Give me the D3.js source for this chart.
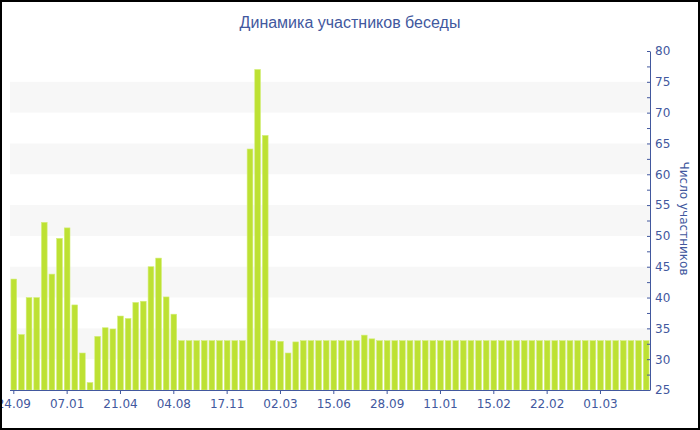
<!DOCTYPE html>
<html><head><meta charset="utf-8">
<script src="https://cdn.jsdelivr.net/npm/d3@7"></script>
<style>html,body{margin:0;padding:0;background:#fff}svg{display:block}</style>
</head><body><svg id="c" width="700" height="430"></svg>
<script>
const title = "Динамика участников беседы";
const yTitle = "Число участников";
const values = [43,34,40,40,52.2,43.8,49.6,51.3,38.8,31,26.2,33.7,35.1,34.9,37,36.6,39.2,39.4,45,46.4,40.1,37.3,
  33,33,33,33,33,33,33,33,33,
  64.1,77,66.3,
  33,32.9,31,32.8,
  33,33,33,33,33,33,33,33,
  33.9,33.3,
  33,33,33,33,33,33,33,33,33,33,33,33,33,33,33,33,33,33,
  33,33,33,33,33,33,33,33,33,33,33,33,33,33,33,33,33,33];
const categories = values.map((d,i)=>i);
const tickLabels = ["24.09","07.01","21.04","04.08","17.11","02.03","15.06","28.09","11.01","15.02","22.02","01.03"];
const tickEvery = 7;
const yTicks = [25,30,35,40,45,50,55,60,65,70,75,80];

const blue = "#42589e";
const svg = d3.select("#c");
const L = 10, R = 650, T = 51, B = 390;

const x = d3.scaleBand().domain(categories).range([L,R]).paddingInner(0.25).paddingOuter(0.125);
const y = d3.scaleLinear().domain([25,80]).range([B,T]);

// bands
const bandStarts = [30,40,50,60,70];
svg.append("g").selectAll("rect").data(bandStarts).join("rect")
  .attr("x",L).attr("width",R-L)
  .attr("y",d=>y(d+5)).attr("height",d=>y(d)-y(d+5))
  .attr("fill","#f7f7f7");

svg.append("g").selectAll("rect").data(values).join("rect")
  .attr("x",(d,i)=>x(categories[i]))
  .attr("width",x.bandwidth())
  .attr("y",d=>y(d)).attr("height",d=>B-y(d))
  .attr("fill","#bde133").attr("stroke","#d3ee78").attr("stroke-width",0.6);

// x axis
const tickCats = tickLabels.map((t,i)=>categories[i*tickEvery]);
const xAxis = d3.axisBottom(x).tickValues(tickCats)
  .tickFormat(d=>tickLabels[d/tickEvery]).tickSize(4).tickSizeOuter(0);
const gx = svg.append("g").attr("transform",`translate(0,${B})`).call(xAxis);
gx.select(".domain").attr("stroke",blue).attr("d",`M${L},0.5H${R}`);
gx.selectAll(".tick line").attr("stroke",blue);
gx.selectAll("text").attr("fill",blue).attr("font-family","DejaVu Sans, Verdana").attr("font-size",12).attr("dy","0.9em");

// y axis right
const minor = d3.range(27.5,80,5);
const gy = svg.append("g").attr("transform",`translate(${R},0)`);
gy.selectAll("line.minor").data(minor).join("line").attr("class","minor")
  .attr("x1",-3).attr("x2",0).attr("y1",d=>y(d)+0.5).attr("y2",d=>y(d)+0.5).attr("stroke",blue);
const yAxis = d3.axisRight(y).tickValues(yTicks).tickSize(-3).tickSizeOuter(0).tickPadding(5);
gy.call(yAxis);
gy.select(".domain").attr("stroke",blue);
gy.selectAll(".tick line").attr("stroke",blue);
gy.selectAll("text").attr("fill",blue).attr("font-family","DejaVu Sans, Verdana").attr("font-size",12);

svg.append("text").attr("x",350).attr("y",28).attr("text-anchor","middle")
  .attr("font-family","Liberation Sans, Arial").attr("font-size",16).attr("fill",blue).text(title);

svg.append("text").attr("transform",`translate(680,${(T+B)/2-2}) rotate(90)`).attr("text-anchor","middle")
  .attr("font-family","DejaVu Sans, Verdana").attr("font-size",12).attr("fill",blue).text(yTitle);

svg.append("rect").attr("x",1).attr("y",1).attr("width",698).attr("height",428)
  .attr("fill","none").attr("stroke","#000").attr("stroke-width",2);
</script></body></html>
